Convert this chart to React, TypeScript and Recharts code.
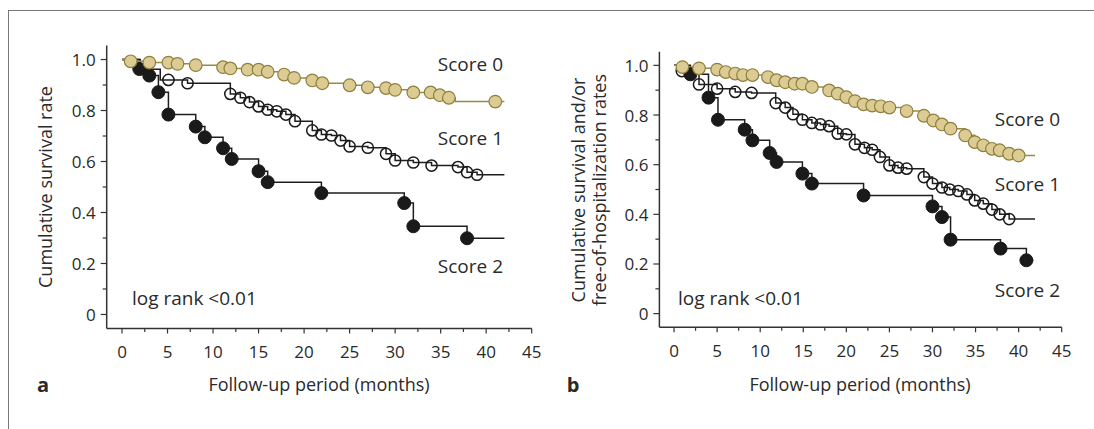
import React from 'react';
import { LineChart, Line, XAxis, YAxis } from 'recharts';

// ---------- Panel a: cumulative survival ----------
const a0Time = [0, 0.95, 3.0, 5.1, 6.1, 8.1, 11.1, 11.9, 13.8, 15.0, 16.0, 17.8, 18.9, 20.9, 22.0, 25.0, 27.0, 29.0, 30.0, 32.0, 33.9, 34.9, 35.9, 36.6, 41.0, 42];
const a0Surv = [1, 0.993, 0.988, 0.988, 0.983, 0.978, 0.970, 0.965, 0.960, 0.960, 0.952, 0.941, 0.928, 0.918, 0.907, 0.899, 0.891, 0.888, 0.881, 0.871, 0.871, 0.860, 0.850, 0.835, 0.835, 0.835];
const a0Plain = [36.6];

const a1Time = [0, 2.0, 4.2, 5.1, 7.2, 11.9, 13.0, 14.0, 15.0, 16.0, 17.0, 18.0, 19.0, 20.9, 21.9, 23.0, 24.0, 25.0, 27.0, 29.0, 30.0, 32.0, 34.0, 36.9, 37.9, 39.0, 42];
const a1Surv = [1, 0.962, 0.92, 0.92, 0.907, 0.865, 0.85, 0.833, 0.816, 0.803, 0.797, 0.784, 0.758, 0.722, 0.706, 0.702, 0.682, 0.659, 0.654, 0.630, 0.604, 0.596, 0.584, 0.578, 0.558, 0.548, 0.548];
const a1Plain = [4.2];

const a2Time = [0, 1.9, 3.0, 4.0, 5.1, 8.1, 9.1, 11.1, 12.05, 15.0, 16.0, 21.9, 31.0, 32.0, 37.9, 42];
const a2Surv = [1, 0.963, 0.937, 0.872, 0.784, 0.737, 0.695, 0.652, 0.61, 0.562, 0.519, 0.476, 0.437, 0.346, 0.299, 0.299];
const a2Plain: number[] = [];

// ---------- Panel b: survival and/or free-of-hospitalization ----------
const b0Time = [0, 0.97, 2.9, 5.0, 6.0, 7.1, 8.0, 9.1, 10.9, 11.9, 12.9, 14.0, 14.9, 16.0, 18.0, 19.0, 20.0, 21.0, 22.0, 23.0, 24.0, 25.0, 27.0, 29.0, 30.1, 31.1, 32.1, 33.8, 34.9, 35.9, 36.9, 37.8, 38.9, 40.0, 41.9];
const b0Surv = [1, 0.993, 0.988, 0.983, 0.973, 0.967, 0.961, 0.961, 0.953, 0.94, 0.932, 0.926, 0.926, 0.913, 0.899, 0.886, 0.872, 0.856, 0.843, 0.838, 0.835, 0.83, 0.816, 0.797, 0.778, 0.762, 0.745, 0.718, 0.691, 0.678, 0.664, 0.658, 0.644, 0.637, 0.637];
const b0Plain: number[] = [];

const b1Time = [0, 0.9, 2.9, 5.0, 7.1, 9.0, 11.8, 12.9, 13.8, 14.9, 16.0, 17.0, 18.0, 19.0, 20.0, 21.0, 22.1, 23.0, 23.9, 25.0, 26.0, 27.0, 29.0, 30.0, 31.1, 32.0, 33.0, 34.0, 34.9, 35.9, 36.9, 37.8, 38.9, 41.9];
const b1Surv = [1, 0.977, 0.923, 0.906, 0.893, 0.889, 0.848, 0.83, 0.803, 0.781, 0.768, 0.762, 0.755, 0.725, 0.722, 0.682, 0.668, 0.66, 0.631, 0.597, 0.588, 0.584, 0.55, 0.524, 0.508, 0.5, 0.494, 0.48, 0.456, 0.443, 0.419, 0.40, 0.381, 0.381];
const b1Plain: number[] = [];

const b2Time = [0, 1.9, 4.0, 5.1, 8.2, 9.1, 11.1, 11.9, 14.9, 16.0, 22.0, 30.0, 31.1, 32.1, 37.9, 40.9, 41.7];
const b2Surv = [1, 0.964, 0.87, 0.781, 0.741, 0.698, 0.647, 0.611, 0.564, 0.524, 0.476, 0.432, 0.389, 0.298, 0.262, 0.215, 0.215];
const b2Plain: number[] = [];

// ---------- Ticks and labels ----------
const xTicks = [0, 2.5, 5, 7.5, 10, 12.5, 15, 17.5, 20, 22.5, 25, 27.5, 30, 32.5, 35, 37.5, 40, 42.5, 45];
const yTicks = [0, 0.1, 0.2, 0.3, 0.4, 0.5, 0.6, 0.7, 0.8, 0.9, 1.0];
const seriesNames = ['Score 0', 'Score 1', 'Score 2'];
const xTitle = 'Follow-up period (months)';
const yTitleA = ['Cumulative survival rate'];
const yTitleB = ['Cumulative survival and/or', 'free-of-hospitalization rates'];
const pValueText = 'log rank <0.01';
const panelLetters = ['a', 'b'];

const FONT = '"Open Sans", "Noto Sans", sans-serif';
const TXT = '#2a2a2a';
const AX = '#333';

type Pt = { t: number; s: number; m: boolean };
function build(time: number[], surv: number[], plain: number[]): Pt[] {
  return time.map((t, i) => ({
    t,
    s: surv[i],
    m: i > 0 && i < time.length - 1 && plain.indexOf(t) < 0,
  }));
}

type MarkStyle = { r: number; fill: string; stroke: string; sw: number };
const mark0: MarkStyle = { r: 6.3, fill: '#dccb92', stroke: '#8e7f3e', sw: 1.2 };
const mark1: MarkStyle = { r: 5.6, fill: 'none', stroke: '#1a1a1a', sw: 1.5 };
const mark2: MarkStyle = { r: 6.5, fill: '#1a1a1a', stroke: '#1a1a1a', sw: 1 };

const makeDot = (st: MarkStyle) => (props: any) => {
  const { cx, cy, payload, index } = props;
  if (!payload || !payload.m) return <g key={'d' + index} />;
  return <circle key={'d' + index} cx={cx} cy={cy} r={st.r} fill={st.fill} stroke={st.stroke} strokeWidth={st.sw} />;
};

const makeXTick = (axisY: number) => (props: any) => {
  const { x, payload, index } = props;
  const v = payload.value as number;
  const major = Math.abs(v / 5 - Math.round(v / 5)) < 1e-6;
  return (
    <g key={'xt' + index}>
      <line x1={x} x2={x} y1={axisY} y2={axisY + (major ? 5 : 3.5)} stroke={AX} strokeWidth={1.2} />
      {major && (
        <text x={x} y={axisY + 23} textAnchor="middle" dominantBaseline="central" fontFamily={FONT} fontSize={17} fill={TXT}>
          {v}
        </text>
      )}
    </g>
  );
};

const makeYTick = (axisX: number) => (props: any) => {
  const { y, payload, index } = props;
  const v = payload.value as number;
  const k = Math.round(v * 10);
  const major = k % 2 === 0;
  const label = k === 0 ? '0' : (k / 10).toFixed(1);
  return (
    <g key={'yt' + index}>
      <line x1={axisX - (major ? 6 : 4)} x2={axisX} y1={y} y2={y} stroke={AX} strokeWidth={1.2} />
      {major && (
        <text x={axisX - 11} y={y} textAnchor="end" dominantBaseline="central" fontFamily={FONT} fontSize={17} fill={TXT}>
          {label}
        </text>
      )}
    </g>
  );
};

type PanelProps = {
  left: number;
  width: number;
  plotLeft: number;
  plotTop: number;
  plotWidth: number;
  plotHeight: number;
  xMin: number;
  s0: Pt[];
  s1: Pt[];
  s2: Pt[];
};

const YW = 50;
const XH = 40;
const H = 429;

function Panel(p: PanelProps) {
  const mLeft = p.plotLeft - YW;
  const mRight = p.width - p.plotLeft - p.plotWidth;
  const mBottom = H - p.plotTop - p.plotHeight - XH;
  const axisY = p.plotTop + p.plotHeight;
  return (
    <div style={{ position: 'absolute', left: p.left, top: 0 }}>
      <LineChart width={p.width} height={H} margin={{ top: p.plotTop, right: mRight, bottom: mBottom, left: mLeft }}>
        <XAxis
          type="number"
          dataKey="t"
          domain={[p.xMin, 45]}
          allowDataOverflow
          ticks={xTicks}
          interval={0}
          height={XH}
          tickLine={false}
          axisLine={{ stroke: AX, strokeWidth: 1.5 }}
          tick={makeXTick(axisY)}
          allowDuplicatedCategory={false}
        />
        <YAxis
          type="number"
          dataKey="s"
          domain={[-0.055, 1.055]}
          allowDataOverflow
          ticks={yTicks}
          interval={0}
          width={YW}
          tickLine={false}
          axisLine={{ stroke: AX, strokeWidth: 1.5 }}
          tick={makeYTick(p.plotLeft)}
        />
        <Line data={p.s1} dataKey="s" type="stepAfter" stroke="#1e1e1e" strokeWidth={1.5} dot={makeDot(mark1)} activeDot={false} isAnimationActive={false} />
        <Line data={p.s2} dataKey="s" type="stepAfter" stroke="#1e1e1e" strokeWidth={1.5} dot={makeDot(mark2)} activeDot={false} isAnimationActive={false} />
        <Line data={p.s0} dataKey="s" type="stepAfter" stroke="#9a8a48" strokeWidth={1.5} dot={makeDot(mark0)} activeDot={false} isAnimationActive={false} />
      </LineChart>
    </div>
  );
}

export default function App() {
  const ts = { fontFamily: FONT, fill: TXT } as const;
  return (
    <div style={{ position: 'absolute', left: 0, top: 0, width: 1094, height: 429, background: '#fff', overflow: 'hidden' }}>
      <div style={{ position: 'absolute', left: 8, top: 10, width: 1100, height: 430, borderLeft: '1.5px solid #777', borderTop: '1.5px solid #777' }} />
      <Panel
        left={0}
        width={560}
        plotLeft={106.7}
        plotTop={45.5}
        plotWidth={425}
        plotHeight={283}
        xMin={-1.68}
        s0={build(a0Time, a0Surv, a0Plain)}
        s1={build(a1Time, a1Surv, a1Plain)}
        s2={build(a2Time, a2Surv, a2Plain)}
      />
      <Panel
        left={560}
        width={534}
        plotLeft={99.4}
        plotTop={51.7}
        plotWidth={402.3}
        plotHeight={275.6}
        xMin={-1.7}
        s0={build(b0Time, b0Surv, b0Plain)}
        s1={build(b1Time, b1Surv, b1Plain)}
        s2={build(b2Time, b2Surv, b2Plain)}
      />
      <svg width={1094} height={429} style={{ position: 'absolute', left: 0, top: 0, pointerEvents: 'none' }}>
        {/* panel a texts */}
        <text x={503} y={64} textAnchor="end" dominantBaseline="central" fontSize={19} {...ts}>{seriesNames[0]}</text>
        <text x={503} y={138} textAnchor="end" dominantBaseline="central" fontSize={19} {...ts}>{seriesNames[1]}</text>
        <text x={503} y={266} textAnchor="end" dominantBaseline="central" fontSize={19} {...ts}>{seriesNames[2]}</text>
        <text x={132} y={298} dominantBaseline="central" fontSize={19} {...ts}>{pValueText}</text>
        <text x={319} y={384} textAnchor="middle" dominantBaseline="central" fontSize={18} {...ts}>{xTitle}</text>
        <text x={43} y={384} textAnchor="middle" dominantBaseline="central" fontSize={20} fontWeight="bold" {...ts}>{panelLetters[0]}</text>
        <text transform="translate(45,187) rotate(-90)" textAnchor="middle" dominantBaseline="central" fontSize={18} {...ts}>{yTitleA[0]}</text>
        {/* panel b texts */}
        <text x={1060} y={119} textAnchor="end" dominantBaseline="central" fontSize={19} {...ts}>{seriesNames[0]}</text>
        <text x={1060} y={184} textAnchor="end" dominantBaseline="central" fontSize={19} {...ts}>{seriesNames[1]}</text>
        <text x={1060} y={290} textAnchor="end" dominantBaseline="central" fontSize={19} {...ts}>{seriesNames[2]}</text>
        <text x={678} y={298} dominantBaseline="central" fontSize={19} {...ts}>{pValueText}</text>
        <text x={860} y={384} textAnchor="middle" dominantBaseline="central" fontSize={18} {...ts}>{xTitle}</text>
        <text x={573} y={384} textAnchor="middle" dominantBaseline="central" fontSize={20} fontWeight="bold" {...ts}>{panelLetters[1]}</text>
        <text transform="translate(578,190) rotate(-90)" textAnchor="middle" dominantBaseline="central" fontSize={18} {...ts}>{yTitleB[0]}</text>
        <text transform="translate(599,190) rotate(-90)" textAnchor="middle" dominantBaseline="central" fontSize={18} {...ts}>{yTitleB[1]}</text>
      </svg>
    </div>
  );
}
